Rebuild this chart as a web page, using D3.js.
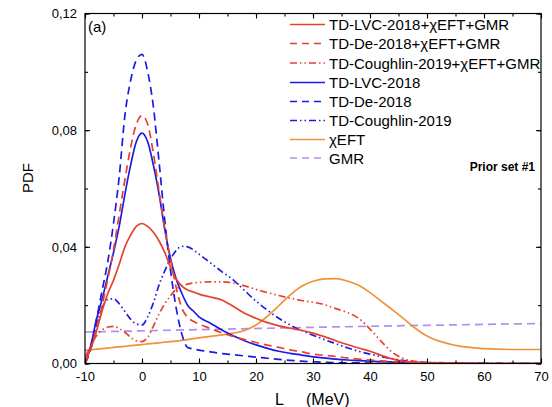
<!DOCTYPE html>
<html>
<head>
<meta charset="utf-8">
<script src="https://cdn.jsdelivr.net/npm/d3@7"></script>
<style>
  body { margin: 0; background: #fff; }
  text { font-family: "Liberation Sans", Arial, sans-serif; }
</style>
</head>
<body>
<svg id="chart" width="552" height="407"></svg>
<script>
// L grid (MeV) shared by the TD / chiEFT curves
var L = [-10, -9, -8, -7, -6, -5, -4, -3, -2, -1,
         0, 1, 2, 3, 4, 5, 6, 7, 8, 9,
         10, 12, 14, 16, 18, 20, 22, 24, 26, 28,
         30, 32, 34, 36, 38, 40, 42, 44, 46, 48,
         50, 55, 60, 65, 70];

var lvcGmr = [0.001, 0.005, 0.011, 0.018, 0.024, 0.0285, 0.034, 0.040, 0.044, 0.047,
              0.048, 0.047, 0.045, 0.042, 0.038, 0.033, 0.029, 0.0265, 0.0252, 0.0245,
              0.0238, 0.0228, 0.0218, 0.0196, 0.0172, 0.0155, 0.014, 0.0129, 0.0121, 0.0114,
              0.0104, 0.0092, 0.0078, 0.0065, 0.0053, 0.0042, 0.0028, 0.0015, 0.0007, 0.0004,
              0.0002, 0.0001, 0, 0, 0];

var deGmr = [0, 0.005, 0.012, 0.020, 0.029, 0.039, 0.051, 0.063, 0.074, 0.082,
             0.085, 0.082, 0.072, 0.059, 0.046, 0.036, 0.026, 0.019, 0.0158, 0.0145,
             0.0135, 0.012, 0.0105, 0.0093, 0.0082, 0.0072, 0.0063, 0.0055, 0.0047, 0.004,
             0.0032, 0.0028, 0.0024, 0.0019, 0.0015, 0.0012, 0.0009, 0.0006, 0.0004, 0.0003,
             0.0002, 0.0001, 0, 0, 0];

var coughlinGmr = [0.002, 0.006, 0.0095, 0.0115, 0.0125, 0.0127, 0.012, 0.0107, 0.009, 0.0078,
                   0.0075, 0.009, 0.0128, 0.017, 0.0205, 0.0232, 0.0255, 0.0266, 0.0272, 0.0276,
                   0.0278, 0.028, 0.028, 0.0276, 0.0266, 0.0254, 0.0243, 0.0233, 0.0224, 0.0216,
                   0.021, 0.0202, 0.0188, 0.0175, 0.0155, 0.0118, 0.0075, 0.0037, 0.0016, 0.0007,
                   0.0003, 0.0001, 0, 0, 0];

var lvc = [0, 0.006, 0.015, 0.022, 0.030, 0.038, 0.047, 0.058, 0.068, 0.076,
           0.079, 0.076, 0.068, 0.058, 0.046, 0.036, 0.029, 0.024, 0.020, 0.018,
           0.016, 0.0138, 0.0115, 0.0095, 0.0078, 0.0064, 0.0052, 0.0042, 0.0035, 0.0029,
           0.0023, 0.0019, 0.0015, 0.0012, 0.001, 0.0008, 0.0006, 0.0005, 0.0004, 0.0003,
           0.0002, 0.0001, 0, 0, 0];

var de = [0, 0.005, 0.015, 0.025, 0.035, 0.048, 0.064, 0.085, 0.097, 0.104,
          0.106, 0.100, 0.088, 0.069, 0.049, 0.032, 0.019, 0.010, 0.0055, 0.005,
          0.0046, 0.004, 0.0034, 0.003, 0.0026, 0.0022, 0.0018, 0.0014, 0.0011, 0.0008,
          0.0006, 0.0004, 0.0003, 0.0002, 0.0002, 0.0001, 0, 0, 0, 0,
          0, 0, 0, 0, 0];

var coughlin = [0, 0.006, 0.013, 0.019, 0.022, 0.0222, 0.0205, 0.0178, 0.0152, 0.0136,
                0.0132, 0.016, 0.0208, 0.027, 0.0318, 0.0358, 0.0388, 0.0402, 0.040, 0.039,
                0.0375, 0.0345, 0.0315, 0.0287, 0.025, 0.0214, 0.0183, 0.0155, 0.0132, 0.0113,
                0.0097, 0.0082, 0.0068, 0.0054, 0.0042, 0.0032, 0.0023, 0.0016, 0.001, 0.0006,
                0.0004, 0.0002, 0.0001, 0, 0];

var chiEFT = [0.0045, 0.0047, 0.0049, 0.0051, 0.0053, 0.0055, 0.0057, 0.0059, 0.0061, 0.0063,
              0.0065, 0.0067, 0.0069, 0.0071, 0.0073, 0.0075, 0.0077, 0.0079, 0.0082, 0.0085,
              0.0088, 0.0093, 0.0098, 0.0104, 0.0113, 0.0132, 0.0162, 0.0198, 0.0235, 0.0265,
              0.0282, 0.029, 0.0291, 0.0283, 0.0268, 0.0243, 0.0213, 0.0183, 0.0152, 0.012,
              0.0094, 0.0062, 0.0051, 0.0048, 0.0048];

var gmrL = [-10, 10, 30, 50, 70];
var gmr = [0.0108, 0.0116, 0.0124, 0.0131, 0.0137];

var xTicks = [-10, 0, 10, 20, 30, 40, 50, 60, 70];
var yTicks = [0, 0.04, 0.08, 0.12];

var red = "#e8412c", blue = "#1c1ce0", orange = "#f0923a", purple = "#b48cf0";
var dashed = "8,5", dashDot = "7,3,1.5,3,1.5,3";

var series = [
  {name: "TD-LVC-2018+\u03c7EFT+GMR", xs: L, ys: lvcGmr, color: red, dash: null},
  {name: "TD-De-2018+\u03c7EFT+GMR", xs: L, ys: deGmr, color: red, dash: dashed},
  {name: "TD-Coughlin-2019+\u03c7EFT+GMR", xs: L, ys: coughlinGmr, color: red, dash: dashDot},
  {name: "TD-LVC-2018", xs: L, ys: lvc, color: blue, dash: null},
  {name: "TD-De-2018", xs: L, ys: de, color: blue, dash: dashed},
  {name: "TD-Coughlin-2019", xs: L, ys: coughlin, color: blue, dash: dashDot},
  {name: "\u03c7EFT", xs: L, ys: chiEFT, color: orange, dash: null},
  {name: "GMR", xs: gmrL, ys: gmr, color: purple, dash: dashed}
];

var pLeft = 85, pRight = 541, pTop = 13.5, pBottom = 363.5;

var x = d3.scaleLinear().domain([-10, 70]).range([pLeft, pRight]);
var y = d3.scaleLinear().domain([0, 0.12]).range([pBottom, pTop]);

var svg = d3.select("#chart");

svg.append("clipPath").attr("id", "clip")
  .append("rect")
  .attr("x", pLeft).attr("y", pTop)
  .attr("width", pRight - pLeft).attr("height", pBottom - pTop);

var line = d3.line()
  .x(function(d) { return x(d[0]); })
  .y(function(d) { return y(d[1]); })
  .curve(d3.curveMonotoneX);

// draw back to front so the red/blue curves sit on top
var order = [7, 6, 5, 4, 3, 2, 1, 0];
var curves = svg.append("g").attr("clip-path", "url(#clip)");
order.forEach(function(i) {
  var s = series[i];
  var pts = s.xs.map(function(v, j) { return [v, s.ys[j]]; });
  curves.append("path")
    .attr("d", line(pts))
    .attr("fill", "none")
    .attr("stroke", s.color)
    .attr("stroke-width", 1.7)
    .attr("stroke-dasharray", s.dash);
});

// axes, ticks inside
var fmt = function(d) { return d3.format(".2f")(d).replace(".", ","); };
var xMinor = d3.range(-10, 71, 5);
var yMinor = d3.range(0, 0.121, 0.02);

function styleAxis(g) {
  g.select(".domain").remove();
  g.selectAll("line").attr("stroke", "#000").attr("stroke-width", 1.1);
  g.selectAll("text").attr("font-size", 13).attr("fill", "#000")
    .attr("font-family", "Liberation Sans, Arial, sans-serif");
}

svg.append("g").attr("transform", "translate(0," + pBottom + ")")
  .call(d3.axisBottom(x).tickValues(xMinor).tickSize(-3).tickFormat(""))
  .call(styleAxis);
svg.append("g").attr("transform", "translate(0," + pBottom + ")")
  .call(d3.axisBottom(x).tickValues(xTicks).tickSizeInner(-5).tickSizeOuter(0).tickPadding(8)
    .tickFormat(function(d) { return String(d); }))
  .call(styleAxis);
svg.append("g").attr("transform", "translate(0," + pTop + ")")
  .call(d3.axisTop(x).tickValues(xMinor).tickSize(-3).tickFormat(""))
  .call(styleAxis);
svg.append("g").attr("transform", "translate(0," + pTop + ")")
  .call(d3.axisTop(x).tickValues(xTicks).tickSize(-5).tickFormat(""))
  .call(styleAxis);

svg.append("g").attr("transform", "translate(" + pLeft + ",0)")
  .call(d3.axisLeft(y).tickValues(yMinor).tickSize(-3).tickFormat(""))
  .call(styleAxis);
svg.append("g").attr("transform", "translate(" + pLeft + ",0)")
  .call(d3.axisLeft(y).tickValues(yTicks).tickSizeInner(-5).tickSizeOuter(0).tickPadding(8).tickFormat(fmt))
  .call(styleAxis);
svg.append("g").attr("transform", "translate(" + pRight + ",0)")
  .call(d3.axisRight(y).tickValues(yMinor).tickSize(-3).tickFormat(""))
  .call(styleAxis);
svg.append("g").attr("transform", "translate(" + pRight + ",0)")
  .call(d3.axisRight(y).tickValues(yTicks).tickSize(-5).tickFormat(""))
  .call(styleAxis);

svg.append("rect")
  .attr("x", pLeft).attr("y", pTop)
  .attr("width", pRight - pLeft).attr("height", pBottom - pTop)
  .attr("fill", "none").attr("stroke", "#000").attr("stroke-width", 1.2);

// labels
svg.append("text").attr("x", 88).attr("y", 32).attr("font-size", 15).text("(a)");

svg.append("text")
  .attr("transform", "translate(33,178) rotate(-90)")
  .attr("text-anchor", "middle").attr("font-size", 15).text("PDF");

svg.append("text").attr("x", 275).attr("y", 405).attr("font-size", 16).text("L");
svg.append("text").attr("x", 306).attr("y", 405).attr("font-size", 16).text("(MeV)");

svg.append("text").attr("x", 535).attr("y", 171)
  .attr("text-anchor", "end").attr("font-size", 12).attr("font-weight", "bold")
  .text("Prior set #1");

// legend
var legY = [24.5, 43.5, 63, 82.5, 101.5, 120.5, 139.5, 158];
var leg = svg.append("g");
series.forEach(function(s, i) {
  leg.append("line")
    .attr("x1", 290).attr("x2", 325)
    .attr("y1", legY[i]).attr("y2", legY[i])
    .attr("stroke", s.color).attr("stroke-width", 1.7)
    .attr("stroke-dasharray", s.dash === dashed ? "7,5" : s.dash);
  leg.append("text")
    .attr("x", 329).attr("y", legY[i] + 5.5)
    .attr("font-size", 15).text(s.name);
});
</script>
</body>
</html>
